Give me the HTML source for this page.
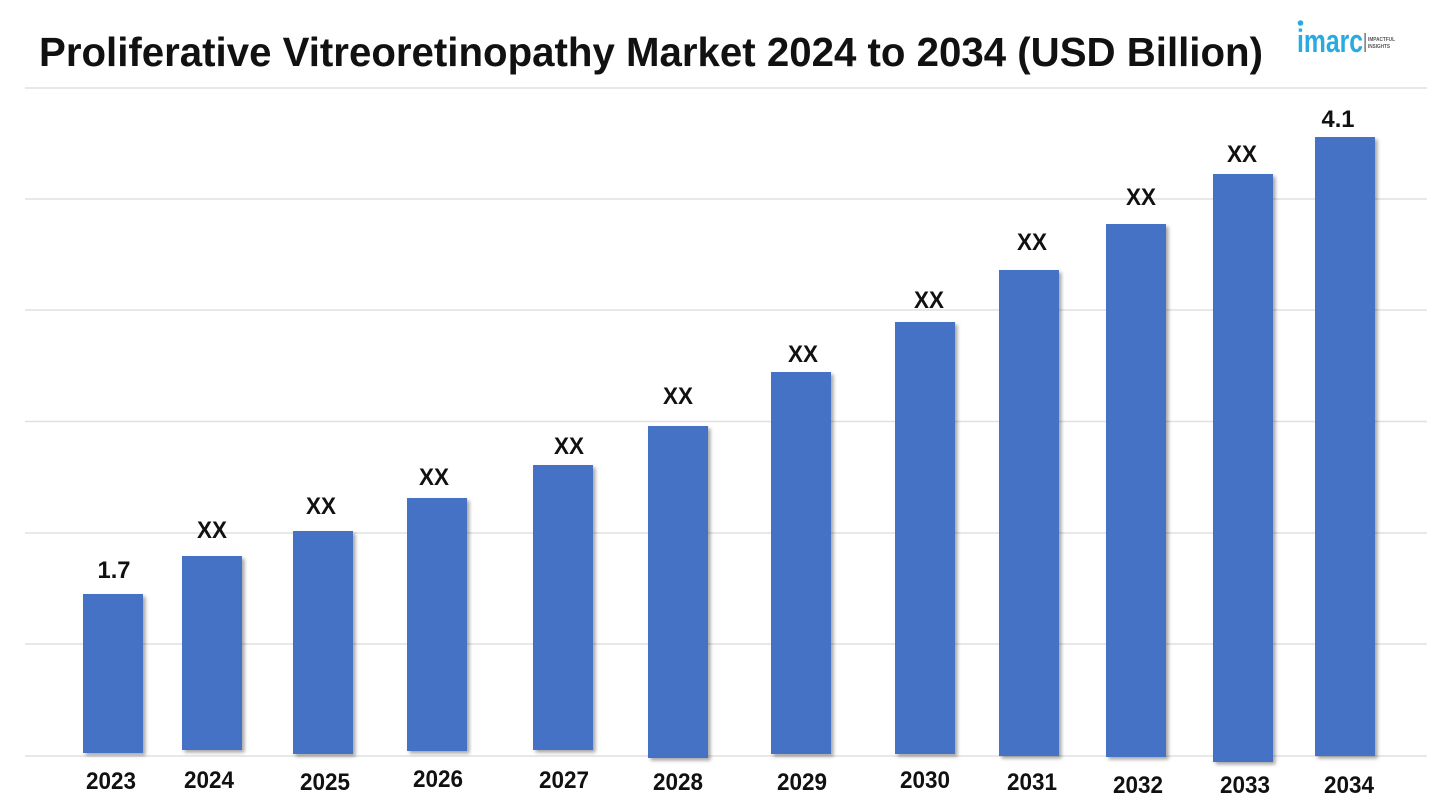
<!DOCTYPE html>
<html>
<head>
<meta charset="utf-8">
<style>
  html, body { margin: 0; padding: 0; background: #ffffff; }
  body { width: 1440px; height: 810px; overflow: hidden; }
  svg { display: block; }
  .t { font-family: "Liberation Sans", Arial, sans-serif; font-weight: bold; fill: #111111; }
</style>
</head>
<body>
<svg width="1440" height="810" viewBox="0 0 1440 810" xmlns="http://www.w3.org/2000/svg">
  <defs>
    <filter id="sh" x="-20%" y="-5%" width="140%" height="115%">
      <feDropShadow dx="2.5" dy="2.5" stdDeviation="1.8" flood-color="#000000" flood-opacity="0.35"/>
    </filter>
  </defs>
  <rect x="0" y="0" width="1440" height="810" fill="#ffffff"/>

  <!-- Title -->
  <text class="t" x="39" y="66" font-size="41" textLength="1224" lengthAdjust="spacingAndGlyphs">Proliferative Vitreoretinopathy Market 2024 to 2034 (USD Billion)</text>

  <!-- Logo -->
  <circle cx="1300.5" cy="23" r="2.8" fill="#29abe2"/>
  <text x="1297" y="52" font-family="'Liberation Sans', Arial, sans-serif" font-size="32" font-weight="bold" fill="#29abe2" textLength="66" lengthAdjust="spacingAndGlyphs">imarc</text>
  <rect x="1364.5" y="33" width="1.2" height="19" fill="#555555"/>
  <text x="1368" y="41" font-family="'Liberation Sans', Arial, sans-serif" font-size="5" font-weight="bold" fill="#555555" textLength="27" lengthAdjust="spacingAndGlyphs">IMPACTFUL</text>
  <text x="1368" y="48" font-family="'Liberation Sans', Arial, sans-serif" font-size="5" font-weight="bold" fill="#555555" textLength="22" lengthAdjust="spacingAndGlyphs">INSIGHTS</text>

  <!-- Gridlines -->
  <g stroke="#e0e0e0" stroke-width="1.5">
    <line x1="25" y1="88" x2="1427" y2="88"/>
    <line x1="25" y1="199" x2="1427" y2="199"/>
    <line x1="25" y1="310" x2="1427" y2="310"/>
    <line x1="25" y1="421.5" x2="1427" y2="421.5"/>
    <line x1="25" y1="533" x2="1427" y2="533"/>
    <line x1="25" y1="644" x2="1427" y2="644"/>
    <line x1="25" y1="756" x2="1427" y2="756"/>
  </g>

  <!-- Bars -->
  <g fill="#4472c4" filter="url(#sh)">
    <rect x="83"   y="594" width="60" height="159"/>
    <rect x="182"  y="556" width="60" height="194"/>
    <rect x="293"  y="531" width="60" height="223"/>
    <rect x="407"  y="498" width="60" height="253"/>
    <rect x="533"  y="465" width="60" height="285"/>
    <rect x="648"  y="426" width="60" height="332"/>
    <rect x="771"  y="372" width="60" height="382"/>
    <rect x="895"  y="322" width="60" height="432"/>
    <rect x="999"  y="270" width="60" height="486"/>
    <rect x="1106" y="224" width="60" height="533"/>
    <rect x="1213" y="174" width="60" height="588"/>
    <rect x="1315" y="137" width="60" height="619"/>
  </g>

  <!-- Value labels -->
  <g class="t" font-size="24" text-anchor="middle">
    <text x="114"  y="578" textLength="33" lengthAdjust="spacingAndGlyphs">1.7</text>
    <text x="212"  y="538" textLength="30" lengthAdjust="spacingAndGlyphs">XX</text>
    <text x="321"  y="514" textLength="30" lengthAdjust="spacingAndGlyphs">XX</text>
    <text x="434"  y="485" textLength="30" lengthAdjust="spacingAndGlyphs">XX</text>
    <text x="569"  y="454" textLength="30" lengthAdjust="spacingAndGlyphs">XX</text>
    <text x="678"  y="404" textLength="30" lengthAdjust="spacingAndGlyphs">XX</text>
    <text x="803"  y="362" textLength="30" lengthAdjust="spacingAndGlyphs">XX</text>
    <text x="929"  y="308" textLength="30" lengthAdjust="spacingAndGlyphs">XX</text>
    <text x="1032" y="250" textLength="30" lengthAdjust="spacingAndGlyphs">XX</text>
    <text x="1141" y="205" textLength="30" lengthAdjust="spacingAndGlyphs">XX</text>
    <text x="1242" y="162" textLength="30" lengthAdjust="spacingAndGlyphs">XX</text>
    <text x="1338" y="127" textLength="33" lengthAdjust="spacingAndGlyphs">4.1</text>
  </g>

  <!-- Year labels -->
  <g class="t" font-size="24" text-anchor="middle">
    <text x="111"  y="789" textLength="50" lengthAdjust="spacingAndGlyphs">2023</text>
    <text x="209"  y="788" textLength="50" lengthAdjust="spacingAndGlyphs">2024</text>
    <text x="325"  y="790" textLength="50" lengthAdjust="spacingAndGlyphs">2025</text>
    <text x="438"  y="787" textLength="50" lengthAdjust="spacingAndGlyphs">2026</text>
    <text x="564"  y="788" textLength="50" lengthAdjust="spacingAndGlyphs">2027</text>
    <text x="678"  y="790" textLength="50" lengthAdjust="spacingAndGlyphs">2028</text>
    <text x="802"  y="790" textLength="50" lengthAdjust="spacingAndGlyphs">2029</text>
    <text x="925"  y="788" textLength="50" lengthAdjust="spacingAndGlyphs">2030</text>
    <text x="1032" y="790" textLength="50" lengthAdjust="spacingAndGlyphs">2031</text>
    <text x="1138" y="793" textLength="50" lengthAdjust="spacingAndGlyphs">2032</text>
    <text x="1245" y="793" textLength="50" lengthAdjust="spacingAndGlyphs">2033</text>
    <text x="1349" y="793" textLength="50" lengthAdjust="spacingAndGlyphs">2034</text>
  </g>
</svg>
</body>
</html>
